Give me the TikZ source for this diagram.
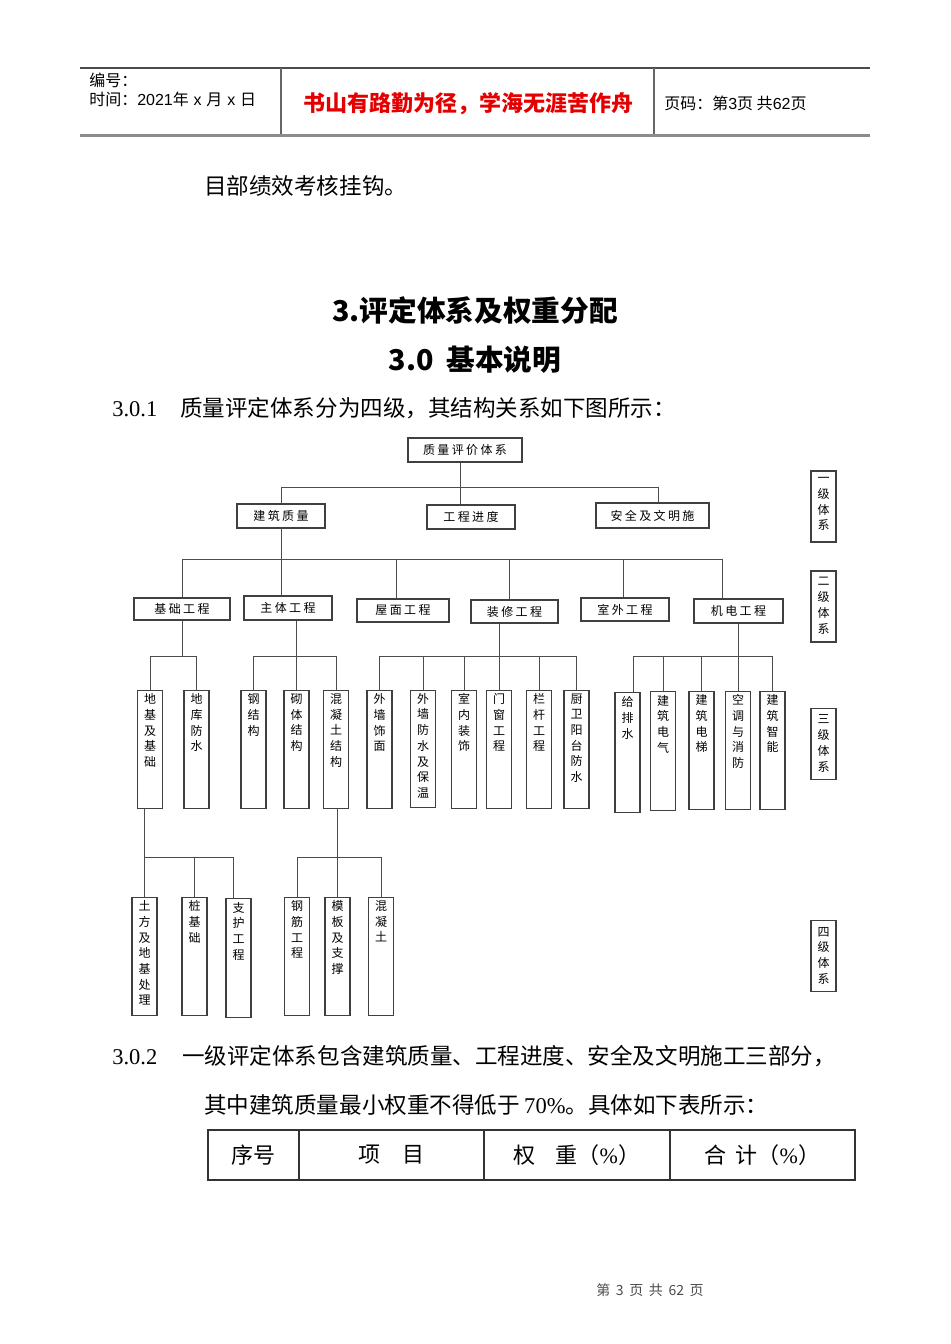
\documentclass[tikz,border=0pt]{standalone}
\usepackage{fontspec}
\setmainfont{Liberation Serif}
\newfontfamily\cjk{Noto Sans CJK SC}
\newfontfamily\cjkwide{Noto Sans CJK SC}[LetterSpace=20]
\newfontfamily\latinsans{Liberation Sans}
\usetikzlibrary{positioning, calc}

\definecolor{motto}{RGB}{228,0,0}
\newdimen\pxu \pxu=0.75pt
%% vertical column text, top aligned
\newcommand\vcol[2][112]{\parbox[c][#1\pxu][t]{14\pxu}{\centering #2}}

\begin{document}
\begin{tikzpicture}[
  x=0.75pt, y=-0.75pt,
  font=\cjk,
  %% Line styles
  wire/.style={draw=black!70, line width=0.7pt},
  rule/.style={draw=black!70, line width=0.8pt},
  %% Box styles
  hbox/.style={
    draw=black!75, line width=0.8pt, inner sep=0pt,
    minimum height=24*\pxu, font=\cjkwide\fontsize{9}{11}\selectfont
  },
  colbox/.style={
    draw=black!75, line width=0.8pt, inner sep=0pt, anchor=north,
    minimum width=25*\pxu, minimum height=118*\pxu,
    font=\cjk\fontsize{9}{11.8}\selectfont
  },
  levelbox/.style={colbox, anchor=center, minimum height=71*\pxu},
  %% Text styles
  body/.style={anchor=west, inner sep=0pt, font=\rmfamily\fontsize{16.9}{20}\selectfont},
  heading/.style={inner sep=0pt, font=\cjk\bfseries\fontsize{21.5}{26}\selectfont},
  headtext/.style={anchor=west, inner sep=0pt, font=\cjk\fontsize{12}{14}\selectfont},
  tcell/.style={
    draw=black!80, line width=0.8pt, inner sep=0pt, outer sep=0pt, anchor=west,
    minimum height=50*\pxu, font=\rmfamily\fontsize{16.5}{20}\selectfont
  },
]
\useasboundingbox (0,0) rectangle (950,1344);

%% ── PAGE HEADER ───────────────────────────────────────────────────────────
\draw[rule] (80,68) -- (870,68);
\draw[draw=black!45, line width=1.6pt] (80,135.5) -- (870,135.5);
\draw[rule, black!60] (281,68) -- (281,134.5);
\draw[rule, black!60] (654,68) -- (654,134.5);

\node[headtext] (bianhao) at (89,80) {编号：};
\node[headtext] (shijian) at (89,99)
  {时间：{\latinsans 2021}年\hspace{0.3em}{\latinsans x}\hspace{0.3em}月\hspace{0.3em}{\latinsans x}\hspace{0.3em}日};
\node[font=\cjk\bfseries\fontsize{16.5}{20}\selectfont, text=motto] (motto) at (468,104)
  {书山有路勤为径，学海无涯苦作舟};
\node[headtext] (yema) at (664,103) {页码：第{\latinsans 3}页 共{\latinsans 62}页};

%% ── TEXT ABOVE ────────────────────────────────────────────────────────────
\node[body] (line0) at (204,186) {\cjk 目部绩效考核挂钩。};
\node[heading] (title) at (475,310) {3.评定体系及权重分配};
\node[heading] (subtitle) at (475,360) {3.0\hspace{0.45em}基本说明};
\node[body] (p301) at (112,408)
  {\makebox[68\pxu][l]{3.0.1}{\cjk 质量评定体系分为四级，其结构关系如下图所示：}};

%% ── LEVEL 0 / LEVEL 1 ─────────────────────────────────────────────────────
\node[hbox, minimum width=114*\pxu] (root) at (465,450) {质量评价体系};
\node[hbox, minimum width=88*\pxu]  (jzzl) at (281,516) {建筑质量};
\node[hbox, minimum width=88*\pxu]  (gcjd) at (471,517) {工程进度};
\node[hbox, minimum width=113*\pxu, minimum height=25*\pxu] (aqwm) at (652.5,515.5) {安全及文明施};

\coordinate (bus1) at (0,487);
\draw[wire] ([xshift=-5*\pxu]root.south) -- ([xshift=-5*\pxu]root.south |- gcjd.north);
\draw[wire] (jzzl.north) |- ([xshift=6*\pxu]aqwm.north |- bus1) -- ([xshift=6*\pxu]aqwm.north);

%% ── LEVEL 2 ───────────────────────────────────────────────────────────────
\node[hbox, minimum width=96*\pxu, minimum height=22*\pxu] (jcgc) at (182,609)     {基础工程};
\node[hbox, minimum width=88*\pxu]                         (ztgc) at (288,608)     {主体工程};
\node[hbox, minimum width=92*\pxu, minimum height=23*\pxu] (wmgc) at (403,610.5)   {屋面工程};
\node[hbox, minimum width=87*\pxu, minimum height=23*\pxu] (zxgc) at (514.5,611.5) {装修工程};
\node[hbox, minimum width=88*\pxu, minimum height=23*\pxu] (swgc) at (625,609.5)   {室外工程};
\node[hbox, minimum width=89*\pxu]                         (jdgc) at (738.5,611)   {机电工程};

\coordinate (bus2) at (0,559);
\draw[wire] (jzzl.south) -- (jzzl.south |- ztgc.north);
\draw[wire] (jcgc.north) |- ([xshift=-16*\pxu]jdgc.north |- bus2);
\foreach \n/\dx in {wmgc/-7, zxgc/-5, swgc/-2, jdgc/-16}
  \draw[wire] ([xshift=\dx*\pxu]\n.north) -- ([xshift=\dx*\pxu]\n.north |- bus2);

%% ── LEVEL 3 ───────────────────────────────────────────────────────────────
\node[colbox] (djjc) at (150,690)   {\vcol{地\\基\\及\\基\\础}};
\node[colbox] (dkfs) at (196.5,690) {\vcol{地\\库\\防\\水}};
\node[colbox] (ggj)  at (253.5,690) {\vcol{钢\\结\\构}};
\node[colbox] (qtjg) at (296.5,690) {\vcol{砌\\体\\结\\构}};
\node[colbox] (htjg) at (336,690)   {\vcol{混\\凝\\土\\结\\构}};
\node[colbox] (wqsm) at (379.5,690) {\vcol{外\\墙\\饰\\面}};
\node[colbox, minimum height=117*\pxu] (wqfs) at (423,690) {\vcol{外\\墙\\防\\水\\及\\保\\温}};
\node[colbox] (snzs) at (464,690)   {\vcol{室\\内\\装\\饰}};
\node[colbox] (mcgc) at (499,690)   {\vcol{门\\窗\\工\\程}};
\node[colbox] (lggc) at (539,690)   {\vcol{栏\\杆\\工\\程}};
\node[colbox] (cwfs) at (576.5,690) {\vcol{厨\\卫\\阳\\台\\防\\水}};
\node[colbox, minimum height=120*\pxu] (gps) at (627.5,692) {\vcol{给\\排\\水}};
\node[colbox, minimum height=119*\pxu] (jzdq) at (663,691) {\vcol{建\\筑\\电\\气}};
\node[colbox] (jzdt) at (701.5,691) {\vcol{建\\筑\\电\\梯}};
\node[colbox] (ktxf) at (738,691)   {\vcol{空\\调\\与\\消\\防}};
\node[colbox] (jzzn) at (772.5,691) {\vcol{建\\筑\\智\\能}};

\coordinate (bus3) at (0,656);
%% 基础工程
\draw[wire] (jcgc.south) -- (jcgc.south |- bus3);
\draw[wire] (djjc.north) |- (bus3 -| dkfs.north) -- (dkfs.north);
%% 主体工程
\draw[wire] (ztgc.south -| qtjg.north) -- (qtjg.north);
\draw[wire] (ggj.north) |- (bus3 -| htjg.north) -- (htjg.north);
%% 装修工程
\draw[wire] (zxgc.south -| mcgc.north) -- (mcgc.north);
\draw[wire] (wqsm.north) |- (bus3 -| cwfs.north) -- (cwfs.north);
\foreach \n in {wqfs, snzs, lggc}
  \draw[wire] (\n.north) -- (\n.north |- bus3);
%% 机电工程
\draw[wire] (jdgc.south -| ktxf.north) -- (ktxf.north);
\draw[wire] ([xshift=6*\pxu]gps.north) |- (bus3 -| jzzn.north) -- (jzzn.north);
\foreach \n in {jzdq, jzdt}
  \draw[wire] (\n.north) -- (\n.north |- bus3);

%% ── LEVEL 4 ───────────────────────────────────────────────────────────────
\node[colbox] (tfcl) at (144.5,897) {\vcol{土\\方\\及\\地\\基\\处\\理}};
\node[colbox] (zjc)  at (194.5,897) {\vcol{桩\\基\\础}};
\node[colbox, minimum height=119*\pxu] (zhgc) at (238.5,898) {\vcol{支\\护\\工\\程}};
\node[colbox] (gjgc) at (297,897)   {\vcol{钢\\筋\\工\\程}};
\node[colbox] (mbzc) at (337.5,897) {\vcol{模\\板\\及\\支\\撑}};
\node[colbox] (hnt)  at (381,897)   {\vcol{混\\凝\\土}};

\coordinate (bus4) at (0,857);
\draw[wire] (djjc.south -| tfcl.north) -- (tfcl.north);
\draw[wire] (tfcl.north |- bus4) -- ([xshift=-5*\pxu]zhgc.north |- bus4) -- ([xshift=-5*\pxu]zhgc.north);
\draw[wire] (zjc.north) -- (zjc.north |- bus4);
\draw[wire] (htjg.south -| mbzc.north) -- (mbzc.north);
\draw[wire] (gjgc.north) |- (bus4 -| hnt.north) -- (hnt.north);

%% ── LEVEL TAGS ────────────────────────────────────────────────────────────
\node[levelbox] (lv1) at (823.5,506.5) {\vcol[58]{一\\级\\体\\系}};
\node[levelbox] (lv2) at (823.5,606.5) {\vcol[58]{二\\级\\体\\系}};
\node[levelbox] (lv3) at (823.5,744)   {\vcol[58]{三\\级\\体\\系}};
\node[levelbox] (lv4) at (823.5,956)   {\vcol[58]{四\\级\\体\\系}};

%% ── TEXT BELOW ────────────────────────────────────────────────────────────
\node[body] (p302) at (112,1056)
  {\makebox[70\pxu][l]{3.0.2}{\cjk 一级评定体系包含建筑质量、工程进度、安全及文明施工三部分，}};
\node[body] (p302b) at (204,1105)
  {{\cjk 其中建筑质量最小权重不得低于}\hspace{0.2em}70\%{\cjk 。具体如下表所示：}};

%% ── TABLE HEADER ──────────────────────────────────────────────────────────
\node[tcell, minimum width=91*\pxu]  (xuhao)  at (208,1155) {\cjk 序号};
\node[tcell, minimum width=185*\pxu] (xiangmu) at (xuhao.east)  {\cjk 项\hspace{1em}目};
\node[tcell, minimum width=186*\pxu] (quanzhong) at (xiangmu.east) {{\cjk 权\hspace{0.9em}重（}\%{\cjk ）}};
\node[tcell, minimum width=185*\pxu] (heji)   at (quanzhong.east) {{\cjk 合\hspace{0.4em}计（}\%{\cjk ）}};

%% ── FOOTER ────────────────────────────────────────────────────────────────
\node[font=\cjk\fontsize{10.5}{12}\selectfont, text=black!70] (footer) at (650,1290)
  {第\hspace{0.4em}3\hspace{0.4em}页\hspace{0.4em}共\hspace{0.4em}62\hspace{0.4em}页};

\end{tikzpicture}
\end{document}
